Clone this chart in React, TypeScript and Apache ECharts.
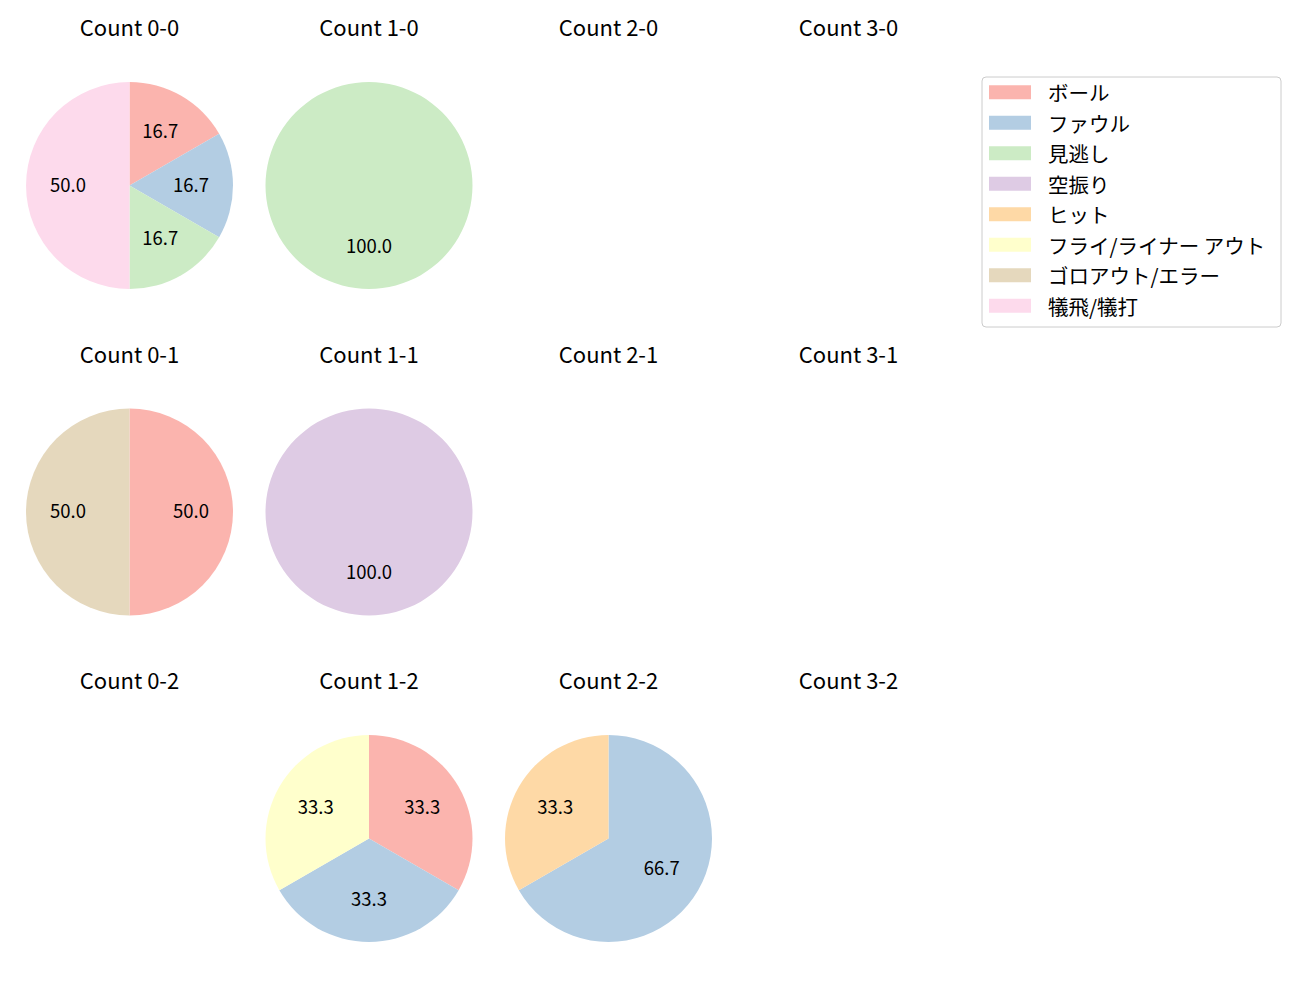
import React, { useEffect, useRef } from "react";
import * as echarts from "echarts";

const categories = ["ボール", "ファウル", "見逃し", "空振り", "ヒット", "フライ/ライナー アウト", "ゴロアウト/エラー", "犠飛/犠打"];
const colors = ["#fbb4ae", "#b3cde3", "#ccebc5", "#decbe4", "#fed9a6", "#ffffcc", "#e5d8bd", "#fddaec"];

const balls = [0, 1, 2, 3];
const strikes = [0, 1, 2];

// counts per category, keyed "balls-strikes"
const count00 = [1, 1, 1, 0, 0, 0, 0, 3];
const count10 = [0, 0, 1, 0, 0, 0, 0, 0];
const count20 = [0, 0, 0, 0, 0, 0, 0, 0];
const count30 = [0, 0, 0, 0, 0, 0, 0, 0];
const count01 = [1, 0, 0, 0, 0, 0, 1, 0];
const count11 = [0, 0, 0, 1, 0, 0, 0, 0];
const count21 = [0, 0, 0, 0, 0, 0, 0, 0];
const count31 = [0, 0, 0, 0, 0, 0, 0, 0];
const count02 = [0, 0, 0, 0, 0, 0, 0, 0];
const count12 = [1, 1, 0, 0, 0, 1, 0, 0];
const count22 = [0, 2, 0, 0, 1, 0, 0, 0];
const count32 = [0, 0, 0, 0, 0, 0, 0, 0];

const countData: Record<string, number[]> = {
  "0-0": count00, "1-0": count10, "2-0": count20, "3-0": count30,
  "0-1": count01, "1-1": count11, "2-1": count21, "3-1": count31,
  "0-2": count02, "1-2": count12, "2-2": count22, "3-2": count32,
};

const FONT = "'Noto Sans CJK JP', 'Noto Sans', sans-serif";
const colX = [129.5, 369, 608.5, 848.5];
const rowY = [185.5, 512, 838.5];
const R = 103.5;

export default function App() {
  const ref = useRef<HTMLDivElement>(null);
  useEffect(() => {
    if (!ref.current) return;
    const chart = echarts.init(ref.current, null, { renderer: "svg" });
    const series: any[] = [];
    const graphic: any[] = [
      {
        type: "rect",
        z: 0,
        shape: { x: 982, y: 77, width: 299, height: 250, r: 4 },
        style: { fill: "#ffffff", stroke: "#cccccc", lineWidth: 1 },
      },
    ];
    strikes.forEach((s, ri) => {
      balls.forEach((b, ci) => {
        const key = `${b}-${s}`;
        const vals = countData[key];
        const total = vals.reduce((a, v) => a + v, 0);
        graphic.push({
          type: "text",
          x: colX[ci],
          y: rowY[ri] - 159.5,
          style: {
            text: `Count ${key}`,
            font: `22px ${FONT}`,
            fill: "#000000",
            textAlign: "center",
            textVerticalAlign: "middle",
          },
        });
        if (total === 0) return;
        const data = categories
          .map((name, i) => ({ name, value: vals[i], itemStyle: { color: colors[i] } }))
          .filter((d) => d.value > 0);
        series.push({
          type: "pie",
          center: [colX[ci], rowY[ri]],
          radius: [0, R],
          startAngle: 90,
          clockwise: true,
          silent: true,
          label: { show: false },
          labelLine: { show: false },
          data,
        });
        series.push({
          type: "pie",
          center: [colX[ci], rowY[ri]],
          radius: [R * 0.13, R],
          startAngle: 90,
          clockwise: true,
          silent: true,
          avoidLabelOverlap: false,
          z: 3,
          label: {
            show: true,
            position: "inside",
            color: "#000000",
            fontSize: 18.5,
            fontFamily: FONT,
            offset: [0, -2],
            formatter: (p: any) => ((p.value / total) * 100).toFixed(1),
          },
          labelLine: { show: false },
          itemStyle: { color: "rgba(0,0,0,0)" },
          data: data.map((d) => ({ name: d.name, value: d.value, itemStyle: { color: "rgba(0,0,0,0)" } })),
          legendHoverLink: false,
        });
      });
    });

    chart.setOption({
      animation: false,
      graphic,
      legend: {
        orient: "vertical",
        left: 989,
        top: 82,
        padding: 0,
        itemWidth: 42,
        itemHeight: 14,
        itemGap: 10,
        icon: "rect",
        selectedMode: false,
        data: categories.map((name, i) => ({ name, itemStyle: { color: colors[i] } })),
        textStyle: {
          fontSize: 20.5,
          fontFamily: FONT,
          color: "#000000",
          lineHeight: 20,
          padding: [0, 0, 0, 12],
        },
      },
      series,
    });
    return () => chart.dispose();
  }, []);
  return <div ref={ref} style={{ position: "absolute", left: 0, top: 0, width: 1300, height: 1000 }} />;
}
